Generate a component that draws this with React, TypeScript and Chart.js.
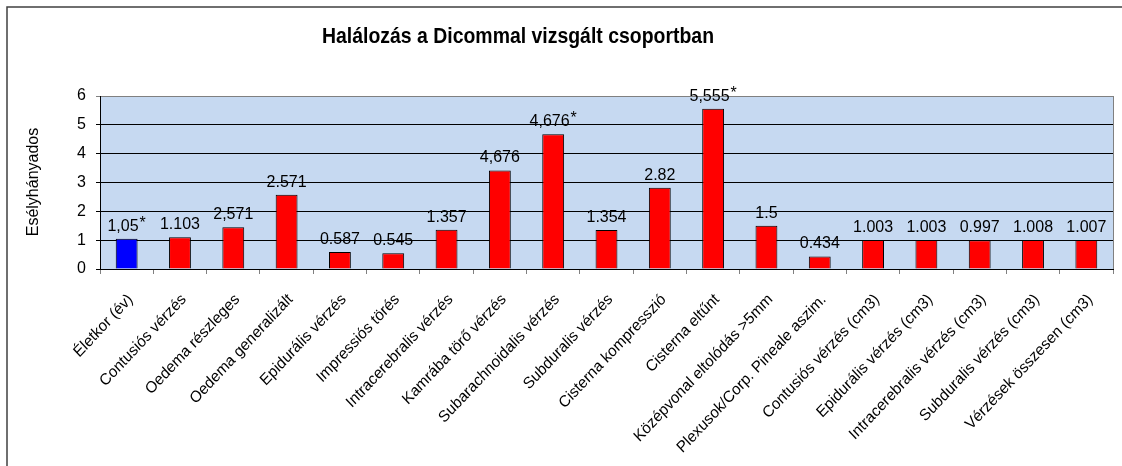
import React, { useEffect, useRef } from 'react';
import { Chart, registerables } from 'chart.js';

Chart.register(...registerables);

const TITLE = 'Halálozás a Dicommal vizsgált csoportban';
const Y_TITLE = 'Esélyhányados';

const categories = [
  'Életkor (év)',
  'Contusiós vérzés',
  'Oedema részleges',
  'Oedema generalizált',
  'Epidurális vérzés',
  'Impressiós törés',
  'Intracerebralis vérzés',
  'Kamrába törő vérzés',
  'Subarachnoidalis vérzés',
  'Subduralis vérzés',
  'Cisterna kompresszió',
  'Cisterna eltűnt',
  'Középvonal eltolódás >5mm',
  'Plexusok/Corp. Pineale aszim.',
  'Contusiós vérzés (cm3)',
  'Epidurális vérzés (cm3)',
  'Intracerebralis vérzés (cm3)',
  'Subduralis vérzés (cm3)',
  'Vérzések összesen (cm3)',
];

const values = [1.05, 1.103, 1.45, 2.571, 0.587, 0.545, 1.357, 3.42, 4.676, 1.354, 2.82, 5.555, 1.5, 0.434, 1.003, 1.003, 0.997, 1.008, 1.007];

const valueLabels = ['1,05', '1.103', '2,571', '2.571', '0.587', '0.545', '1.357', '4,676', '4,676', '1.354', '2.82', '5,555', '1.5', '0.434', '1.003', '1.003', '0.997', '1.008', '1.007'];

const starred = [true, false, false, false, false, false, false, false, true, false, false, true, false, false, false, false, false, false, false];

const barColors = ['#0000FF', '#FF0000', '#FF0000', '#FF0000', '#FF0000', '#FF0000', '#FF0000', '#FF0000', '#FF0000', '#FF0000', '#FF0000', '#FF0000', '#FF0000', '#FF0000', '#FF0000', '#FF0000', '#FF0000', '#FF0000', '#FF0000'];

const yMin = 0;
const yMax = 6;
const yStep = 1;

const FONT = 'Arial, "Liberation Sans", sans-serif';

const decorPlugin = {
  id: 'decor',
  beforeDraw(chart: any) {
    const { ctx, chartArea } = chart;
    ctx.save();
    ctx.fillStyle = '#C6D9F1';
    ctx.fillRect(chartArea.left, chartArea.top, chartArea.right - chartArea.left, chartArea.bottom - chartArea.top);
    ctx.restore();
  },
  afterDraw(chart: any) {
    const { ctx, chartArea } = chart;
    ctx.save();
    // right border of plot
    ctx.strokeStyle = '#808080';
    ctx.lineWidth = 1;
    ctx.beginPath();
    ctx.moveTo(Math.round(chartArea.right) + 0.5, chartArea.top);
    ctx.lineTo(Math.round(chartArea.right) + 0.5, chartArea.bottom);
    ctx.stroke();
    // outer frame
    ctx.strokeStyle = '#404040';
    ctx.lineWidth = 1.5;
    ctx.beginPath();
    ctx.moveTo(7, 470);
    ctx.lineTo(7, 7);
    ctx.lineTo(1125, 7);
    ctx.stroke();
    // title
    ctx.fillStyle = '#000';
    ctx.font = 'bold 22px "Liberation Sans Narrow", "Arial Narrow", Arial, sans-serif';
    const w = ctx.measureText(TITLE).width;
    const sx = 392 / w;
    ctx.translate(518, 37);
    ctx.scale(sx, 1);
    ctx.textAlign = 'center';
    ctx.textBaseline = 'middle';
    ctx.fillText(TITLE, 0, 0);
    ctx.restore();
    // y title
    ctx.save();
    ctx.fillStyle = '#000';
    ctx.font = '16px ' + FONT;
    ctx.translate(34, 182);
    ctx.rotate(-Math.PI / 2);
    ctx.textAlign = 'center';
    ctx.textBaseline = 'middle';
    ctx.fillText(Y_TITLE, 0, 0);
    ctx.restore();
    // x category labels (rotated 45°)
    const xs = chart.scales.x;
    ctx.save();
    ctx.fillStyle = '#000';
    ctx.font = '16px ' + FONT;
    ctx.textAlign = 'right';
    ctx.textBaseline = 'middle';
    categories.forEach((lab, i) => {
      const px = xs.getPixelForTick(i);
      ctx.save();
      ctx.translate(px + 4, chartArea.bottom + 28);
      ctx.scale(0.94, 1);
      ctx.rotate(-Math.PI / 4);
      ctx.fillText(lab, 0, 0);
      ctx.restore();
    });
    ctx.restore();
  },
  afterDatasetsDraw(chart: any) {
    const { ctx } = chart;
    const meta = chart.getDatasetMeta(0);
    ctx.save();
    ctx.fillStyle = '#000';
    ctx.font = '16px ' + FONT;
    ctx.textBaseline = 'alphabetic';
    meta.data.forEach((bar: any, i: number) => {
      const txt = valueLabels[i];
      const tw = ctx.measureText(txt).width;
      const starW = starred[i] ? ctx.measureText('*').width + 1 : 0;
      const total = tw + starW;
      const left = bar.x - total / 2;
      const base = bar.y - 8;
      ctx.textAlign = 'left';
      ctx.fillText(txt, left, base);
      if (starred[i]) {
        ctx.fillText('*', left + tw + 1, base - 3);
      }
    });
    ctx.restore();
  },
};

export default function App() {
  const canvasRef = useRef<HTMLCanvasElement | null>(null);

  useEffect(() => {
    const canvas = canvasRef.current;
    if (!canvas) return;
    const chart = new Chart(canvas, {
      type: 'bar',
      data: {
        labels: categories,
        datasets: [
          {
            data: values,
            backgroundColor: barColors,
            borderColor: '#000000',
            borderWidth: 1,
            barPercentage: 0.41,
            categoryPercentage: 1,
          },
        ],
      },
      options: {
        animation: false,
        responsive: false,
        maintainAspectRatio: false,
        events: [],
        layout: { padding: { top: 96, right: 9, left: 0, bottom: 0 } },
        plugins: {
          legend: { display: false },
          title: { display: false },
          tooltip: { enabled: false },
        },
        scales: {
          x: {
            grid: {
              offset: true,
              drawOnChartArea: false,
              drawTicks: true,
              tickLength: 5,
              color: '#808080',
            },
            border: { color: '#000000', width: 1 },
            ticks: {
              display: false,
              autoSkip: false,
            },
            afterFit(scale: any) {
              scale.height = 197;
            },
          },
          y: {
            min: yMin,
            max: yMax,
            grid: {
              color: (c: any) => (c.tick && c.tick.value === yMax ? '#808080' : '#000000'),
              tickLength: 4,
              drawTicks: true,
            },
            border: { color: '#000000', width: 1 },
            ticks: {
              stepSize: yStep,
              padding: 10,
              color: '#000',
              font: { family: FONT, size: 16 },
            },
            afterFit(scale: any) {
              scale.width = 100;
            },
          },
        },
      },
      plugins: [decorPlugin],
    } as any);
    return () => chart.destroy();
  }, []);

  return (
    <div style={{ position: 'absolute', left: 0, top: 0, width: 1122, height: 466, background: '#fff' }}>
      <canvas ref={canvasRef} width={1122} height={466} />
    </div>
  );
}
